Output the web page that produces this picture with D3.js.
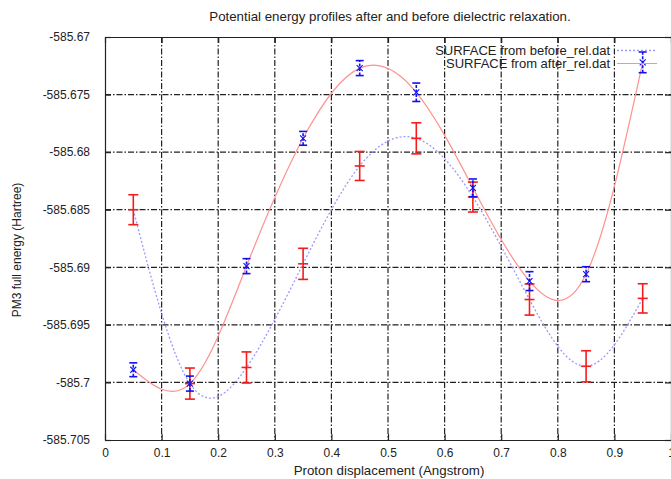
<!DOCTYPE html>
<html>
<head>
<meta charset="utf-8">
<title>Potential energy profiles</title>
<style>
html,body{margin:0;padding:0;background:#fff;overflow:hidden;}
svg{display:block;font-family:"Liberation Sans",Arial,sans-serif;}
.grid line{stroke:#222;stroke-width:1.2;stroke-dasharray:6,2,1.5,2;}
.tick-label{fill:#222;}
</style>
</head>
<body>
<div id="chart"></div>
<script src="https://cdn.jsdelivr.net/npm/d3@7"></script>
<script>
/* ---------- data ---------- */
const xs = [0.05, 0.15, 0.25, 0.35, 0.45, 0.55, 0.65, 0.75, 0.85, 0.95];
// blue points (x markers), the solid red spline runs through them
const blueY   = [-585.6989, -585.7001, -585.6899, -585.6788, -585.6727, -585.6748, -585.6831, -585.6912, -585.6906, -585.6722];
const blueErr = [0.0006, 0.00065, 0.00065, 0.0006, 0.00065, 0.0008, 0.00077, 0.00082, 0.00065, 0.0009];
// red points (+ markers), the dotted blue spline runs through them
const redY    = [-585.6850, -585.7001, -585.6987, -585.6897, -585.6812, -585.6788, -585.6839, -585.6928, -585.6986, -585.6927];
const redErr  = [0.0013, 0.00135, 0.00135, 0.00135, 0.00126, 0.00135, 0.0013, 0.00135, 0.00135, 0.00127];

const xTicks = [0, 0.1, 0.2, 0.3, 0.4, 0.5, 0.6, 0.7, 0.8, 0.9, 1];
const xTickLabels = ['0', '0.1', '0.2', '0.3', '0.4', '0.5', '0.6', '0.7', '0.8', '0.9', '1'];
const yTicks = [-585.705, -585.7, -585.695, -585.69, -585.685, -585.68, -585.675, -585.67];
const yTickLabels = ['-585.705', '-585.7', '-585.695', '-585.69', '-585.685', '-585.68', '-585.675', '-585.67'];

const legendNames = ['SURFACE from before_rel.dat', 'SURFACE from after_rel.dat'];

/* ---------- canvas ---------- */
const W = 671, H = 479;
const L = 105, T = 37, R = 671, B = 440;

const svg = d3.select('#chart').append('svg').attr('width', W).attr('height', H);

const x = d3.scaleLinear().domain([0, 1]).range([L, R]);
const y = d3.scaleLinear().domain([-585.705, -585.67]).range([B, T]);

/* ---------- grid ---------- */
const grid = svg.append('g').attr('class', 'grid');
grid.selectAll('line.v').data(xTicks.slice(1, -1)).join('line').attr('class', 'v')
  .attr('x1', d => x(d)).attr('x2', d => x(d)).attr('y1', T).attr('y2', B);
grid.selectAll('line.h').data(yTicks.slice(1, -1)).join('line').attr('class', 'h')
  .attr('x1', L).attr('x2', R).attr('y1', d => y(d)).attr('y2', d => y(d));

/* ---------- axes (gnuplot style: ticks inward on all sides) ---------- */
const axB = svg.append('g').attr('transform', `translate(0,${B})`)
  .call(d3.axisBottom(x).tickValues(xTicks).tickSizeInner(-6).tickSizeOuter(0)
    .tickPadding(8).tickFormat((d, i) => xTickLabels[i]));
const axT = svg.append('g').attr('transform', `translate(0,${T})`)
  .call(d3.axisTop(x).tickValues(xTicks).tickSizeInner(-6).tickSizeOuter(0).tickFormat(''));
const axL = svg.append('g').attr('transform', `translate(${L},0)`)
  .call(d3.axisLeft(y).tickValues(yTicks).tickSizeInner(-6).tickSizeOuter(0)
    .tickPadding(15).tickFormat((d, i) => yTickLabels[i]));
const axR = svg.append('g').attr('transform', `translate(${R},0)`)
  .call(d3.axisRight(y).tickValues(yTicks).tickSizeInner(-6).tickSizeOuter(0).tickFormat(''));

[axB, axT, axL, axR].forEach(a => {
  a.select('.domain').attr('stroke', '#222').attr('stroke-width', 1.2);
  a.selectAll('.tick line').attr('stroke', '#222').attr('stroke-width', 1.2);
  a.selectAll('.tick text').attr('class', 'tick-label').attr('font-size', 12)
    .attr('font-family', '"Liberation Sans",Arial,sans-serif');
});

/* ---------- curves ---------- */
const line = d3.line().x(d => x(d[0])).y(d => y(d[1])).curve(d3.curveNatural);

svg.append('path').datum(xs.map((v, i) => [v, redY[i]]))
  .attr('d', line).attr('fill', 'none')
  .attr('stroke', '#9a9aff').attr('stroke-width', 1.3).attr('stroke-dasharray', '2,2');

svg.append('path').datum(xs.map((v, i) => [v, blueY[i]]))
  .attr('d', line).attr('fill', 'none')
  .attr('stroke', '#ff9090').attr('stroke-width', 1.2);

/* ---------- error bars ---------- */
function errorBars(vals, errs, color, cap, dash) {
  const g = svg.append('g').attr('stroke', color).attr('stroke-width', 1.6).attr('fill', 'none');
  xs.forEach((xv, i) => {
    const cx = x(xv), y0 = y(vals[i] - errs[i]), y1 = y(vals[i] + errs[i]);
    g.append('line').attr('x1', cx).attr('x2', cx).attr('y1', y0).attr('y2', y1)
      .attr('stroke-dasharray', dash);
    g.append('line').attr('x1', cx - cap).attr('x2', cx + cap).attr('y1', y0).attr('y2', y0);
    g.append('line').attr('x1', cx - cap).attr('x2', cx + cap).attr('y1', y1).attr('y2', y1);
  });
  return g;
}

const gRed = errorBars(redY, redErr, '#f41c1c', 5, null);
xs.forEach((xv, i) => {
  gRed.append('line').attr('x1', x(xv) - 5).attr('x2', x(xv) + 5)
    .attr('y1', y(redY[i])).attr('y2', y(redY[i]));
});

const gBlue = errorBars(blueY, blueErr, '#1010f0', 4, '3,1.5');
xs.forEach((xv, i) => {
  const cx = x(xv), cy = y(blueY[i]), s = 3;
  gBlue.append('path').attr('stroke-width', 1.1)
    .attr('d', `M${cx - s},${cy - s}L${cx + s},${cy + s}M${cx - s},${cy + s}L${cx + s},${cy - s}`);
});

/* ---------- legend ---------- */
const leg = svg.append('g');
leg.selectAll('text').data(legendNames).join('text')
  .attr('x', 610).attr('y', (d, i) => 54.5 + i * 13.3)
  .attr('text-anchor', 'end').attr('font-size', 13).attr('fill', '#222')
  .text(d => d);
leg.append('line').attr('x1', 617).attr('x2', 657).attr('y1', 50.5).attr('y2', 50.5)
  .attr('stroke', '#9a9aff').attr('stroke-width', 1.3).attr('stroke-dasharray', '2,2');
leg.append('line').attr('x1', 617).attr('x2', 657).attr('y1', 63.5).attr('y2', 63.5)
  .attr('stroke', '#ff9090').attr('stroke-width', 1.2);

/* ---------- titles ---------- */
svg.append('text').attr('x', 390).attr('y', 21).attr('text-anchor', 'middle')
  .attr('font-size', 13.3).attr('fill', '#222')
  .text('Potential energy profiles after and before dielectric relaxation.');
svg.append('text').attr('x', 389).attr('y', 475).attr('text-anchor', 'middle')
  .attr('font-size', 13.3).attr('fill', '#222')
  .text('Proton displacement (Angstrom)');
svg.append('text').attr('transform', 'translate(21,250) rotate(-90)')
  .attr('text-anchor', 'middle').attr('font-size', 12).attr('fill', '#222')
  .text('PM3 full energy (Hartree)');
</script>
</body>
</html>
